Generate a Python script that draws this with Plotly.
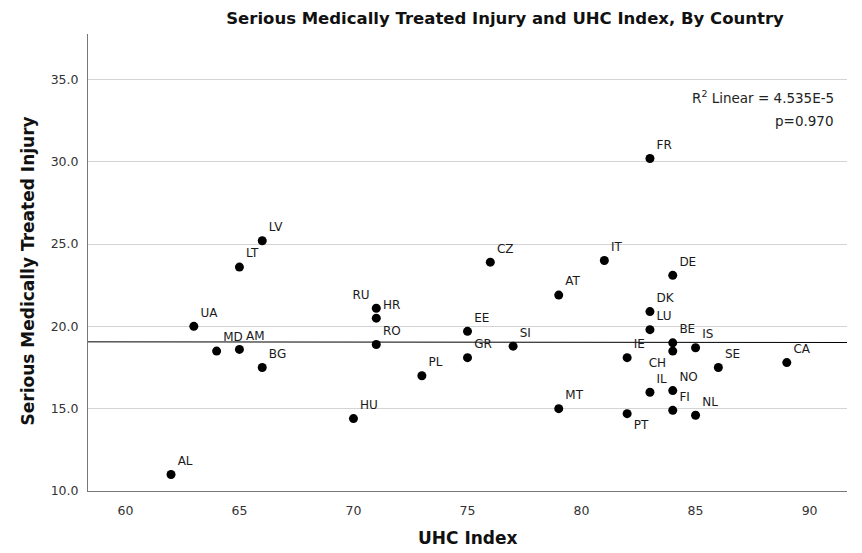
import plotly.graph_objects as go

# ---- data ----
countries = ["AL", "HU", "MT", "PT", "FI", "NL", "IL", "NO", "SE", "CA",
             "IE", "CH", "BE", "IS", "SI", "GR", "EE", "LU", "DK", "AT",
             "DE", "CZ", "IT", "FR", "LV", "LT", "UA", "MD", "AM", "BG",
             "RU", "HR", "RO", "PL"]
uhc_index = [62, 70, 79, 82, 84, 85, 83, 84, 86, 89,
             82, 84, 84, 85, 77, 75, 75, 83, 83, 79,
             84, 76, 81, 83, 66, 65, 63, 64, 65, 66,
             71, 71, 71, 73]
injury = [11.0, 14.4, 15.0, 14.7, 14.9, 14.6, 16.0, 16.1, 17.5, 17.8,
          18.1, 18.5, 19.0, 18.7, 18.8, 18.1, 19.7, 19.8, 20.9, 21.9,
          23.1, 23.9, 24.0, 30.2, 25.2, 23.6, 20.0, 18.5, 18.6, 17.5,
          21.1, 20.5, 18.9, 17.0]

# linear fit line (end values)
fit_x = [58.36, 91.64]
fit_y = [19.06, 19.02]

x_ticks = [60, 65, 70, 75, 80, 85, 90]
y_ticks = [10, 15, 20, 25, 30, 35]

r2_text = "R<sup>2</sup> Linear = 4.535E-5"
p_text = "p=0.970"

# label placement overrides (style only)
label_pos_override = {"RU": "top left", "CH": "bottom left", "PT": "bottom right"}
text_positions = [label_pos_override.get(c, "top right") for c in countries]

FONT = "DejaVu Sans, Lucida Grande, Arial, sans-serif"

# the page body has an 8px default margin; size the figure to fit the window
W, H = 854, 545
ML, MR, MT, MB = 80, 15, 26, 62
PW, PH = W - ML - MR, H - MT - MB


def px_x(page_x):
    return (page_x - 8 - ML) / PW


def px_y(page_y):
    return (H - MB - (page_y - 8)) / PH


fig = go.Figure()

fig.add_trace(go.Scatter(
    x=fit_x, y=fit_y, mode="lines",
    line=dict(color="black", width=1),
    hoverinfo="skip", showlegend=False,
))

fig.add_trace(go.Scatter(
    x=uhc_index, y=injury, mode="markers+text",
    text=countries, textposition=text_positions,
    textfont=dict(family=FONT, size=12, color="#1a1a1a"),
    marker=dict(color="black", size=9),
    showlegend=False,
))

fig.update_layout(
    width=W, height=H,
    margin=dict(l=ML, r=MR, t=MT, b=MB, pad=0),
    paper_bgcolor="white", plot_bgcolor="white",
    font=dict(family=FONT, color="#222"),
    title=dict(
        text="<b>Serious Medically Treated Injury and UHC Index, By Country</b>",
        font=dict(family=FONT, size=16.5, color="#111"),
        xref="paper", x=px_x(505), xanchor="center",
        yref="container", y=1 - (18 - 8) / H, yanchor="middle",
    ),
    xaxis=dict(
        range=[58.36, 91.64], tickvals=x_ticks, ticktext=[str(v) for v in x_ticks],
        showgrid=False, zeroline=False,
        showline=True, linecolor="#777", linewidth=1,
        ticks="", ticklabelstandoff=8,
        tickfont=dict(family=FONT, size=12.5, color="#333"),
    ),
    yaxis=dict(
        range=[10, 37.76], tickvals=y_ticks, ticktext=[f"{v:.1f}" for v in y_ticks],
        showgrid=True, gridcolor="#d4d4d4", gridwidth=1,
        zeroline=False, showline=True, linecolor="#777", linewidth=1,
        ticks="", ticklabelstandoff=6,
        tickfont=dict(family=FONT, size=12.5, color="#333"),
    ),
    annotations=[
        dict(text="<b>UHC Index</b>", xref="paper", yref="paper",
             x=0.5, y=px_y(538), xanchor="center", yanchor="middle",
             showarrow=False, font=dict(family=FONT, size=17, color="#111")),
        dict(text="<b>Serious Medically Treated Injury</b>", xref="paper", yref="paper",
             x=px_x(27), y=px_y(271.5), textangle=-90,
             xanchor="center", yanchor="middle",
             showarrow=False, font=dict(family=FONT, size=17, color="#111")),
        dict(text=r2_text, xref="paper", yref="paper",
             x=px_x(836), y=px_y(97), xanchor="right", yanchor="middle",
             showarrow=False, font=dict(family=FONT, size=13.5, color="#222")),
        dict(text=p_text, xref="paper", yref="paper",
             x=px_x(836), y=px_y(121), xanchor="right", yanchor="middle",
             showarrow=False, font=dict(family=FONT, size=13.5, color="#222")),
    ],
)

fig.write_html("out.html")
